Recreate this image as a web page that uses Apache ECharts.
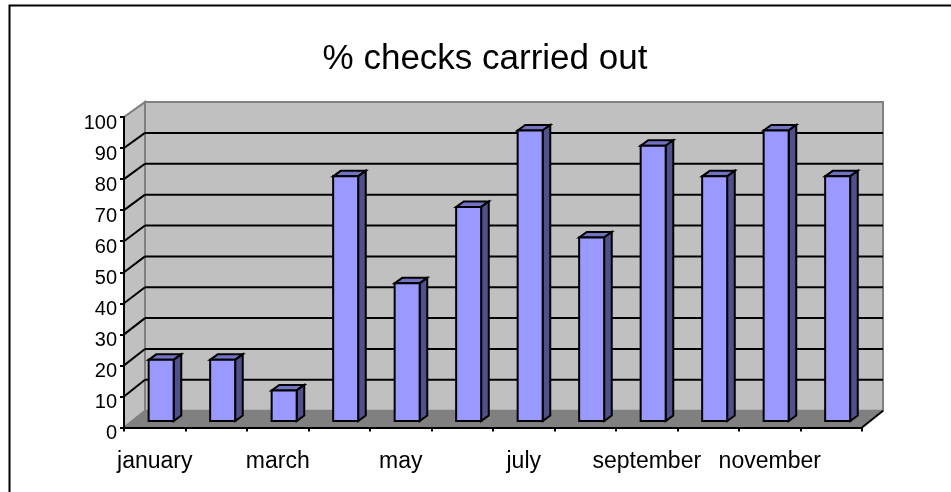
<!DOCTYPE html>
<html>
<head>
<meta charset="utf-8">
<style>html,body{margin:0;padding:0;background:#fff}#chart{width:951px;height:492px}</style>
<script src="https://cdn.jsdelivr.net/npm/echarts@6/dist/echarts.min.js"></script>
</head>
<body>
<div id="chart"></div>
<script>
const titleText = '% checks carried out';
const months = ['january','february','march','april','may','june','july','august','september','october','november','december'];
const checksPct = [20,20,10,80,45,70,95,60,90,80,95,80];
const yTicks = [0,10,20,30,40,50,60,70,80,90,100];

// Pixel offsets of the receding planes, relative to the front axis plane.
const WALL_DEPTH = [21, -16.8];
const WALL_Y_SCALE = 0.994;
const BAR_FRONT = [6.4, -6.5];
const BAR_DEPTH = [7.6, -5.5];
const BAR_Y_SCALE = 0.985;
const BAR_WIDTH = 25;

const shift = (p, d) => [p[0] + d[0], p[1] + d[1]];
const FONT = '"Liberation Sans", Arial, sans-serif';

function poly(points, fill, stroke, lineWidth) {
  return {
    type: 'polygon',
    shape: { points },
    style: { fill, stroke: stroke || null, lineWidth: lineWidth || 0, lineJoin: 'miter' }
  };
}
function seg(a, b, stroke, lineWidth) {
  return {
    type: 'line',
    shape: { x1: a[0], y1: a[1], x2: b[0], y2: b[1] },
    style: { stroke, lineWidth }
  };
}
// Projects a point of the front plane onto the back wall.
function toWall(p, yZero) {
  return [p[0] + WALL_DEPTH[0], yZero + WALL_DEPTH[1] - (yZero - p[1]) * WALL_Y_SCALE];
}

// Side wall, back wall and floor of the box.
function renderBox(params, api) {
  const band = api.size([1, 0])[0];
  const origin = api.coord([0, 0]);
  const left = origin[0] - band / 2;
  const right = left + band * months.length;
  const yZero = origin[1];
  const yTop = api.coord([0, 100])[1];
  const fl = [left, yZero], fr = [right, yZero], tl = [left, yTop], tr = [right, yTop];
  const w = p => toWall(p, yZero);
  const edge = '#808080';
  return {
    type: 'group',
    children: [
      poly([fl, fr, w(fr), w(fl)], '#808080'),
      poly([fl, tl, w(tl), w(fl)], '#c0c0c0', edge, 2),
      poly([w(fl), w(tl), w(tr), w(fr)], '#c0c0c0', edge, 2),
      seg(fr, w(fr), '#000', 2),
      seg(fl, w(fl), edge, 1)
    ]
  };
}

// One horizontal rule per tick: along the side wall, then across the back wall.
function renderGridline(params, api) {
  const v = api.value(1);
  if (v === 0 || v === 100) return { type: 'group', children: [] };
  const band = api.size([1, 0])[0];
  const yZero = api.coord([0, 0])[1];
  const p = api.coord([0, v]);
  const a = [p[0] - band / 2, p[1]];
  const b = toWall(a, yZero);
  const c = [b[0] + band * months.length, b[1]];
  return {
    type: 'group',
    children: [seg(a, b, '#000', 2), seg(b, c, '#000', 2)]
  };
}

// A column drawn as front, top and side faces.
function renderColumn(params, api) {
  const i = api.value(0), v = api.value(1);
  const base = api.coord([i, 0]), top = api.coord([i, v]);
  const xl = base[0] - BAR_WIDTH / 2, xr = base[0] + BAR_WIDTH / 2;
  const topY = base[1] + (top[1] - base[1]) * BAR_Y_SCALE;
  const fbl = shift([xl, base[1]], BAR_FRONT), fbr = shift([xr, base[1]], BAR_FRONT);
  const ftl = shift([xl, topY], BAR_FRONT), ftr = shift([xr, topY], BAR_FRONT);
  const line = '#000', lw = 2;
  return {
    type: 'group',
    children: [
      poly([ftl, ftr, shift(ftr, BAR_DEPTH), shift(ftl, BAR_DEPTH)], '#7373c4', line, lw),
      poly([fbr, ftr, shift(ftr, BAR_DEPTH), shift(fbr, BAR_DEPTH)], '#50508a', line, lw),
      poly([fbl, ftl, ftr, fbr], '#9999ff', line, lw)
    ]
  };
}

const chart = echarts.init(document.getElementById('chart'), null, { renderer: 'canvas' });
chart.setOption({
  animation: false,
  backgroundColor: '#ffffff',
  title: {
    text: titleText,
    left: 480,
    top: 37,
    textAlign: 'center',
    textStyle: { fontFamily: FONT, fontSize: 35, fontWeight: 'normal', color: '#000' }
  },
  graphic: [{
    type: 'polyline',
    silent: true,
    shape: { points: [[9.5, 492], [9.5, 5.5], [951, 5.5]] },
    style: { stroke: '#000', lineWidth: 2, fill: null }
  }],
  grid: { left: 124, right: 89, top: 117, bottom: 64.5 },
  xAxis: {
    type: 'category',
    data: months,
    z: 6,
    axisLine: { show: true, lineStyle: { color: '#000', width: 2 } },
    axisTick: { show: true, length: 4, interval: 0, alignWithLabel: false, lineStyle: { color: '#000', width: 2 } },
    axisLabel: { interval: 1, margin: 23, fontFamily: FONT, fontSize: 23, color: '#000' },
    splitLine: { show: false }
  },
  yAxis: {
    type: 'value',
    min: 0,
    max: 100,
    interval: 10,
    z: 6,
    axisLine: { show: true, lineStyle: { color: '#000', width: 2 } },
    axisTick: { show: true, length: 4, lineStyle: { color: '#000', width: 2 } },
    axisLabel: { margin: 7, verticalAlign: 'top', padding: [-4, 0, 0, 0], fontFamily: FONT, fontSize: 20, color: '#000' },
    splitLine: { show: false }
  },
  series: [
    { type: 'custom', name: 'box', z: 1, silent: true, renderItem: renderBox, data: [[0, 0]], encode: { x: 0, y: 1 } },
    { type: 'custom', name: 'rules', z: 2, silent: true, renderItem: renderGridline,
      data: yTicks.map(t => [0, t]), encode: { x: 0, y: 1 } },
    { type: 'custom', name: titleText, z: 3, renderItem: renderColumn,
      data: checksPct.map((v, i) => [i, v]), encode: { x: 0, y: 1 } }
  ]
});
</script>
</body>
</html>
